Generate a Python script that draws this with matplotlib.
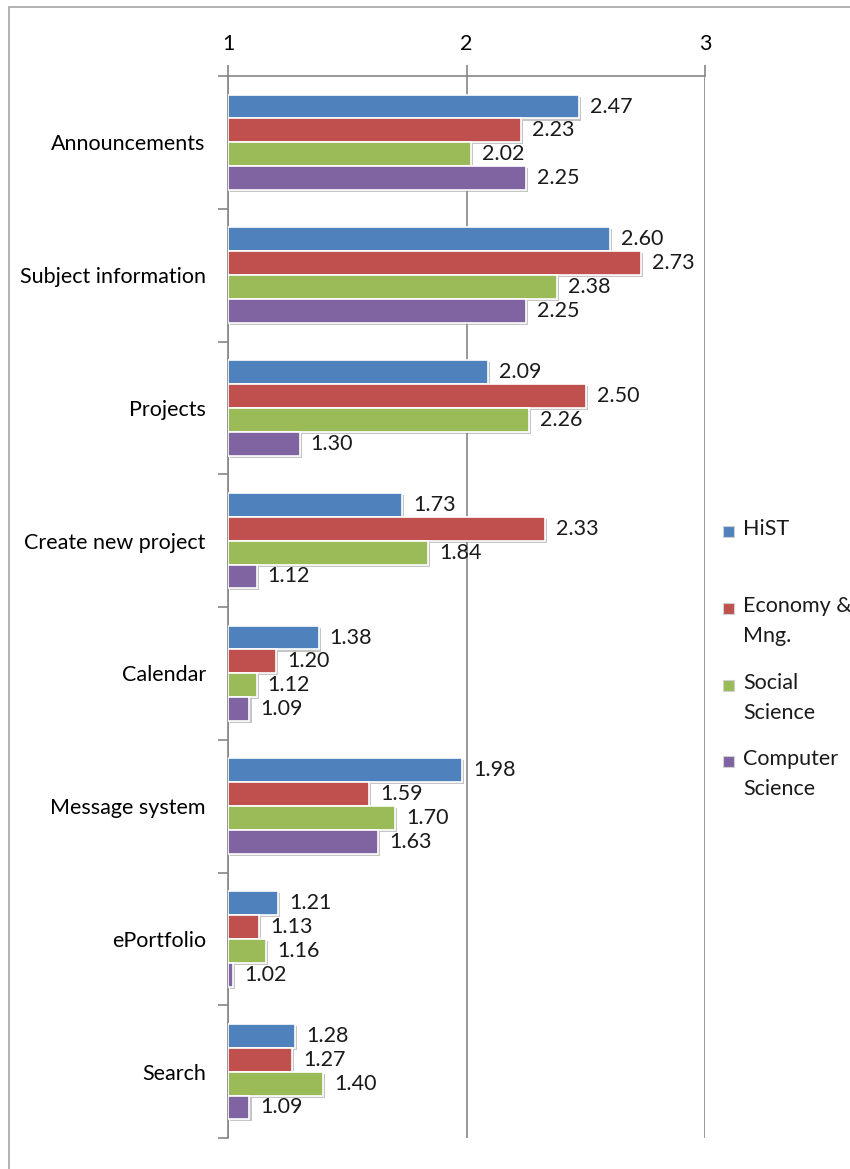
import numpy as np
import matplotlib.pyplot as plt
import matplotlib.patheffects as pe
from matplotlib.patches import Rectangle

plt.rcParams['font.family'] = ['Lato', 'DejaVu Sans']

# Mean ratings per LMS feature and study programme
features = ['Announcements', 'Subject information', 'Projects', 'Create new project',
            'Calendar', 'Message system', 'ePortfolio', 'Search']
series = ['HiST', 'Economy &\nMng.', 'Social\nScience', 'Computer\nScience']
hist = [2.47, 2.60, 2.09, 1.73, 1.38, 1.98, 1.21, 1.28]
economy = [2.23, 2.73, 2.50, 2.33, 1.20, 1.59, 1.13, 1.27]
social = [2.02, 2.38, 2.26, 1.84, 1.12, 1.70, 1.16, 1.40]
computer = [2.25, 2.25, 1.30, 1.12, 1.09, 1.63, 1.02, 1.09]
values = [hist, economy, social, computer]
colors = ['#4F81BD', '#C0504D', '#9BBB59', '#8064A2']

FS = 15.5
W, H = 850, 1169
fig = plt.figure(figsize=(W / 100, H / 100), dpi=100)
ax = fig.add_axes([228 / W, 1 - 1138 / H, (705 - 228) / W, (1138 - 76) / H])

# outer chart frame
fig.patches.append(Rectangle((9 / W, -0.1), 1.2, 1 - 7 / H + 0.1, transform=fig.transFigure,
                             fill=False, edgecolor='#A6A6A6', linewidth=1.2))

y = np.arange(len(features))
bh = 0.18
shadow = [pe.SimplePatchShadow(offset=(1.5, -1.5), shadow_rgbFace='#808080', alpha=0.45), pe.Normal()]
for i, (vals, c) in enumerate(zip(values, colors)):
    pos = y - 1.5 * bh + i * bh
    bars = ax.barh(pos, np.array(vals) - 1, left=1, height=bh, color=c,
                   edgecolor='white', linewidth=1.2, zorder=3)
    for b in bars:
        b.set_path_effects(shadow)
    for p, v in zip(pos, vals):
        ax.annotate(f'{v:.2f}', xy=(v, p), xytext=(8, 0), textcoords='offset points',
                    va='center', ha='left', fontsize=FS, color='#1a1a1a', zorder=4)

ax.set_xlim(1, 3)
ax.set_ylim(len(features) - 0.5, -0.5)
ax.xaxis.tick_top()
ax.set_xticks([1, 2, 3])
ax.set_xticklabels(['1', '2', '3'])
ax.tick_params(axis='x', direction='out', length=8, width=1.2, color='#868686',
               pad=8, labelsize=FS)
ax.grid(axis='x', color='#868686', linewidth=1.2, zorder=0)

ax.set_yticks(y)
ax.set_yticklabels(features)
ax.set_yticks(np.arange(-0.5, len(features)), minor=True)
ax.tick_params(axis='y', which='major', length=0, pad=16, labelsize=FS)
ax.tick_params(axis='y', which='minor', direction='out', length=7, width=1.2, color='#868686')

for s in ['right', 'bottom']:
    ax.spines[s].set_visible(False)
for s in ['left', 'top']:
    ax.spines[s].set_color('#868686')
    ax.spines[s].set_linewidth(1.2)

# legend on the right
leg_y = [531, 608, 685, 761]
for name, c, ly in zip(series, colors, leg_y):
    fig.patches.append(Rectangle((723 / W, 1 - (ly + 6) / H), 11 / W, 11 / H,
                                 transform=fig.transFigure, facecolor=c,
                                 edgecolor='#d0d0d0', linewidth=0.8))
    fig.text(743 / W, 1 - (ly - 12) / H, name, fontsize=FS, va='top', ha='left',
             linespacing=1.6, color='#1a1a1a')

fig.savefig('out.png', dpi=100)
